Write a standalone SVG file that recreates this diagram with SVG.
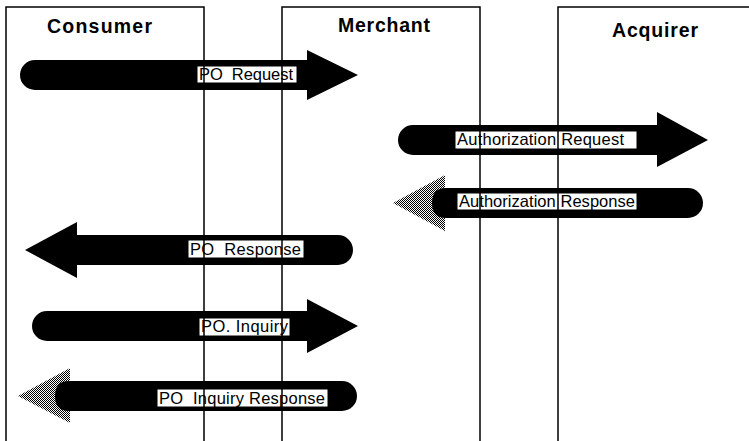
<svg xmlns="http://www.w3.org/2000/svg" width="749" height="441" viewBox="0 0 749 441">
  <defs>
    <!-- halftone fill used for the outlined (response) arrowheads -->
    <pattern id="dither" width="2" height="2" patternUnits="userSpaceOnUse">
      <rect width="2" height="2" fill="#fff"/>
      <rect x="0" y="0" width="1" height="1" fill="#000"/>
      <rect x="1" y="1" width="1" height="1" fill="#000"/>
    </pattern>
    <style>
      .lane { fill: none; stroke: #000; stroke-width: 1.5; }
      .title { font-family: "Liberation Sans", Arial, sans-serif; font-weight: bold; font-size: 19.5px; fill: #000; }
      .arrow { fill: #000; }
      .dhead { fill: url(#dither); }
      .tag { fill: #fff; stroke: #000; stroke-width: 1; }
      .label { font-family: "Liberation Sans", Arial, sans-serif; font-size: 16.5px; fill: #000; white-space: pre; }
    </style>
  </defs>
  <rect width="749" height="441" fill="#fff"/>

  <!-- message arrows -->
  <g id="connectors">
    <g id="po-request">
      <path class="arrow" d="M35,60 H307 V50 L358,75 L307,100 V90 H35 A15,15 0 0 1 35,60 Z"/>
    </g>
    <g id="authorization-request">
      <path class="arrow" d="M413,125 H657 V112 L708,140 L657,167 V155 H413 A15,15 0 0 1 413,125 Z"/>
    </g>
    <g id="authorization-response">
      <polygon class="dhead" points="393,203 445,175 445,231"/>
      <path class="arrow" d="M446,188 H688 A15,15 0 0 1 688,218 H446 Q432,218 432,203 Q432,188 446,188 Z"/>
    </g>
    <g id="po-response">
      <path class="arrow" d="M338,235 H77 V222 L25,250 L77,278 V265 H338 A15,15 0 0 0 338,235 Z"/>
    </g>
    <g id="po-inquiry">
      <path class="arrow" d="M47,311 H307 V299 L358,326 L307,353 V341 H47 A15,15 0 0 1 47,311 Z"/>
    </g>
    <g id="po-inquiry-response">
      <polygon class="dhead" points="18,396 70,368 70,423"/>
      <path class="arrow" d="M69,381 H342 A15,15 0 0 1 342,411 H69 Q55,411 55,396 Q55,381 69,381 Z"/>
    </g>
  </g>

  <!-- label plates on the arrows -->
  <g id="label-plates">
    <rect class="tag" x="197" y="66" width="100" height="17"/>
    <rect class="tag" x="455" y="131" width="182" height="18"/>
    <rect class="tag" x="457" y="193" width="180" height="17"/>
    <rect class="tag" x="188" y="240" width="116" height="18"/>
    <rect class="tag" x="199" y="318" width="91" height="18"/>
    <rect class="tag" x="157" y="389" width="171" height="18"/>
  </g>

  <!-- party swimlanes -->
  <g id="consumer">
    <path class="lane" d="M6,441 V7 H204 V441"/>
    <text class="title" x="47" y="33" textLength="105" lengthAdjust="spacing">Consumer</text>
  </g>
  <g id="merchant">
    <path class="lane" d="M282,441 V7 H480 V441"/>
    <text class="title" x="338" y="32" textLength="92" lengthAdjust="spacing">Merchant</text>
  </g>
  <g id="acquirer">
    <path class="lane" d="M558,441 V7 H749"/>
    <text class="title" x="612" y="37" textLength="86" lengthAdjust="spacing">Acquirer</text>
  </g>

  <!-- message labels -->
  <g id="labels">
    <text class="label" x="199" y="80" textLength="94" lengthAdjust="spacing">PO  Request</text>
    <text class="label" x="457" y="145" textLength="167" lengthAdjust="spacing">Authorization Request</text>
    <text class="label" x="459" y="207" textLength="176" lengthAdjust="spacing">Authorization Response</text>
    <text class="label" x="190" y="255" textLength="111" lengthAdjust="spacing">PO  Response</text>
    <text class="label" x="201" y="332" textLength="87" lengthAdjust="spacing">PO. Inquiry</text>
    <text class="label" x="159" y="404" textLength="166" lengthAdjust="spacing">PO  Inquiry Response</text>
  </g>
</svg>
